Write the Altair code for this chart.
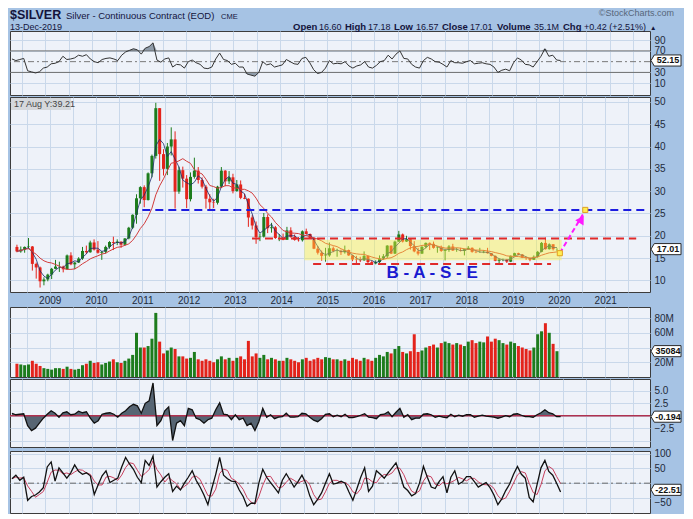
import altair as alt
import pandas as pd

FONT = "Liberation Sans"
BG = "#a6c3e4"
PLOT_BG = "#eef2f9"
GRID = "#c9d8ea"
UP = "#1d7c1d"
DOWN = "#e3231b"

# ---------------- data (monthly, Apr 2008 .. Dec 2019) ----------------
first_open = 17.5
close = [
    16.5, 16.9, 17.5, 17.6, 13.7, 12.9, 9.8, 10.2, 11.3,
    12.6, 13.1, 13.1, 12.5, 15.6, 13.6, 14.0, 14.9, 16.6, 16.3, 18.5, 16.9,
    16.2, 16.4, 17.5, 18.6, 18.4, 18.7, 18.0, 19.4, 21.8, 24.7, 28.4, 30.9,
    28.0, 34.0, 37.9, 48.6, 38.3, 35.0, 40.0, 41.6, 29.9, 34.7, 32.8, 28.2,
    33.2, 34.6, 32.5, 31.0, 28.3, 27.5, 27.4, 31.0, 34.6, 32.2, 33.1, 30.0,
    31.5, 28.5, 28.3, 24.1, 22.3, 19.7, 19.8, 24.2, 21.7, 21.9, 19.5, 19.5,
    19.1, 21.2, 19.7, 19.1, 19.0, 21.0, 20.4, 19.5, 17.1, 16.2, 15.5, 15.6,
    17.2, 16.6, 16.6, 16.3, 16.8, 15.6, 14.7, 14.6, 14.5, 15.5, 14.1, 13.8,
    14.1, 14.9, 15.4, 17.8, 16.0, 18.7, 20.3, 18.7, 19.2, 17.7, 16.5, 16.0,
    17.5, 18.4, 18.2, 17.3, 17.4, 16.6, 16.8, 17.6, 16.7, 16.7, 16.6, 17.0,
    17.3, 16.4, 16.3, 16.3, 16.4, 16.1, 15.5, 14.4, 14.7, 14.7, 14.2, 15.5,
    16.1, 15.8, 15.1, 15.0, 14.6, 15.3, 16.4, 18.4, 17.0, 18.1, 17.0, 17.01,
]
high = [
    18.0, 17.6, 17.6, 19.5, 17.7, 14.0, 13.1, 10.7, 11.5,
    12.8, 14.6, 14.2, 13.3, 15.8, 16.3, 14.2, 15.2, 17.5, 17.8, 18.9, 19.2,
    18.8, 16.6, 17.8, 18.8, 19.8, 19.2, 18.7, 19.5, 22.0, 24.8, 29.3, 31.1,
    31.3, 34.2, 38.2, 49.8, 48.6, 39.4, 40.8, 44.3, 43.4, 35.5, 35.5, 33.6,
    34.2, 37.5, 35.4, 33.1, 31.4, 29.3, 28.3, 31.2, 35.4, 34.7, 34.5, 33.9,
    32.5, 32.4, 29.4, 28.4, 24.6, 23.2, 20.5, 25.1, 24.8, 22.9, 22.2, 20.4,
    20.5, 22.0, 21.9, 20.3, 19.7, 21.2, 21.6, 20.5, 19.6, 17.7, 16.7, 17.3,
    18.5, 17.6, 17.1, 16.9, 17.8, 16.9, 15.7, 15.5, 15.3, 16.5, 15.5, 14.5,
    14.5, 15.6, 15.9, 17.9, 17.8, 18.9, 21.1, 20.5, 20.0, 19.2, 18.8, 17.3,
    17.8, 18.5, 18.5, 18.7, 17.6, 17.8, 16.9, 17.9, 18.2, 17.3, 17.3, 17.1,
    17.7, 17.4, 16.8, 17.3, 16.8, 17.3, 16.1, 15.6, 14.9, 14.9, 14.8, 15.6,
    16.2, 16.2, 15.9, 15.3, 15.1, 15.6, 16.6, 18.6, 19.6, 18.3, 18.1, 17.2,
]
low = [
    16.3, 16.2, 16.2, 17.0, 12.2, 10.4, 8.4, 8.9, 9.8,
    10.3, 12.5, 11.9, 11.8, 12.4, 13.4, 12.5, 13.9, 14.6, 15.9, 16.2, 16.7,
    16.0, 14.6, 16.0, 17.1, 16.8, 17.9, 17.3, 17.8, 19.2, 21.5, 22.7, 27.2,
    26.4, 27.9, 33.1, 37.3, 32.3, 33.5, 33.6, 38.0, 26.1, 29.4, 30.8, 26.2,
    27.7, 32.8, 31.7, 30.6, 26.1, 26.0, 26.2, 27.0, 30.7, 31.1, 31.6, 29.5,
    29.9, 28.2, 28.2, 22.0, 21.4, 18.2, 18.8, 19.6, 20.6, 20.7, 19.3, 18.8,
    19.0, 19.1, 19.6, 18.9, 18.7, 18.7, 20.3, 19.4, 17.0, 15.8, 14.4, 14.2,
    15.3, 16.3, 15.3, 15.7, 16.0, 15.5, 14.3, 13.9, 14.1, 14.4, 13.9, 13.6,
    13.6, 13.9, 14.6, 15.0, 15.9, 15.9, 18.6, 18.5, 18.6, 16.9, 16.3, 15.6,
    15.9, 17.2, 16.8, 17.1, 16.2, 16.4, 14.5, 16.4, 16.6, 16.4, 16.5, 15.6,
    16.9, 16.2, 16.1, 16.2, 16.1, 16.0, 15.4, 14.3, 13.9, 14.3, 13.9, 14.1,
    15.4, 15.6, 15.0, 14.6, 14.3, 14.6, 15.1, 16.3, 16.9, 16.9, 16.7, 16.6,
]
rsi = [
    55, 52, 54, 56, 33, 31, 29, 31, 38,
    40, 46, 47, 50, 60, 54, 55, 57, 62, 60, 63, 55,
    50, 48, 54, 56, 57, 55, 52, 62, 68, 71, 74, 72,
    64, 75, 78, 85, 53, 49, 55, 57, 40, 45, 44, 38,
    50, 53, 48, 45, 38, 37, 40, 55, 66, 54, 52, 45,
    47, 40, 40, 27, 25, 23, 30, 50, 44, 46, 40, 42,
    44, 54, 50, 46, 45, 56, 58, 48, 35, 28, 30, 38,
    52, 46, 47, 46, 50, 42, 38, 42, 44, 50, 40, 38,
    43, 50, 52, 62, 55, 64, 70, 56, 55, 45, 40, 38,
    52, 58, 55, 50, 49, 45, 40, 52, 48, 48, 47, 50,
    52, 46, 47, 48, 46, 45, 40, 30, 34, 36, 33, 48,
    57, 53, 45, 44, 40, 50, 60, 74, 60, 62, 53, 52.15,
]
volume_m = [
    18, 17, 16, 17, 22, 18, 15, 12, 11,
    10, 12, 12, 11, 14, 11, 10, 11, 16, 18, 22, 19,
    20, 17, 19, 21, 24, 20, 19, 22, 25, 30, 60, 40,
    40, 42, 52, 87, 48, 32, 36, 40, 38, 28, 28, 25,
    26, 34, 24, 22, 24, 22, 20, 24, 28, 24, 26, 22,
    26, 28, 24, 49, 28, 32, 26, 30, 24, 26, 24, 22,
    22, 26, 24, 22, 20, 24, 26, 22, 24, 26, 24, 27,
    26, 24, 24, 22, 24, 22, 26, 24, 22, 26, 24, 22,
    26, 30, 28, 34, 32, 38, 42, 34, 32, 35, 58, 34,
    36, 40, 42, 44, 40, 46, 48, 46, 44, 46, 44, 42,
    48, 50, 46, 48, 47, 55, 48, 52, 50, 46, 44, 48,
    46, 42, 40, 38, 36, 40, 58, 62, 73, 60, 45, 35,
]
momentum = [
    0.5, 0.2, 0.3, 0.4, -2.0, -3.0, -2.5, -1.5, -0.5,
    0.3, 1.0, 0.5, -0.3, 0.6, 0.8, 0.2, 0.3, 0.9, 0.6, 0.8, -0.5,
    -1.5, -1.0, 0.3, 0.5, 0.6, 0.3, -0.3, 0.5, 1.0, 1.8, 2.3, 2.0,
    0.5, 2.5, 3.0, 6.6, -2.0, -1.0, 1.0, 1.8, -5.0, -1.5, -1.0, -2.0,
    1.5, 1.2, -0.5, -0.8, -1.5, -0.8, -0.5, 1.2, 2.6, 0.3, 0.2, -0.8,
    0.2, -0.8, -0.5, -2.0, -1.5, -3.0, -1.2, 1.5, -0.3, 0.2, -0.6, -0.3,
    -0.2, 0.5, -0.3, -0.3, -0.2, 0.5, 0.4, -0.3, -0.9, -1.2, -0.6, 0.3,
    0.4, -0.2, 0.1, -0.2, 0.3, -0.4, -0.4, -0.2, 0.1, 0.4, -0.3, -0.4,
    -0.6, 0.2, 0.3, 0.8, -0.2, 0.7, 1.5, -0.3, 0.2, -0.8, -0.5, -0.5,
    0.3, 0.4, 0.2, -0.3, -0.1, -0.3, -0.4, 0.3, -0.2, 0.1, -0.1, 0.2,
    0.2, -0.3, -0.1, 0.1, -0.1, -0.2, -0.3, -0.5, -0.3, 0.0, -0.2, 0.3,
    0.4, 0.1, -0.2, -0.2, -0.3, 0.2, 0.6, 1.2, 0.6, 0.4, -0.2, -0.194,
]
oscillator = [
    15, 27, 10, 20, -58, -45, -40, -30, -15,
    55, 72, 7, 52, 35, 17, 35, 62, 40, 30, 35, 25,
    -38, -5, 25, 42, 2, 10, 17, 55, 87, 65, 47, 20,
    2, 77, 60, 92, -13, 5, 20, 32, -28, -10, -23, 0,
    20, 42, 10, -13, -40, -73, -18, 30, 87, 27, 15, 7,
    5, -23, -45, -78, -68, -68, 0, 47, 20, 2, -15, -33,
    10, 32, 10, -13, 5, 27, 0, -43, -73, -55, -33, 0,
    32, -3, 0, 7, 0, -30, -58, -20, 20, 52, -28, -10,
    42, 30, 17, 35, 52, 69, 30, -13, -25, -43, -35, 0,
    57, 20, -13, -18, 5, 22, -33, 20, 42, -3, 5, 22,
    22, 5, -13, -5, 2, -15, -40, -73, -53, -25, -3, 30,
    57, 30, 17, -48, -63, -5, 52, 77, 40, 27, 0, -30,
]

# last-value tags
tag_rsi, tag_price, tag_vol, tag_mom, tag_osc = 52.15, 17.01, 35.084, -0.194, -22.51
tag_labels = ["52.15", "17.01", "35084", "-0.194", "-22.51"]

# annotations (date in years, price)
blue_level = {"t1": [2011.0], "t2": [2021.86], "lvl": [25.8]}
red_upper = {"t1": [2013.37], "t2": [2021.67], "lvl": [19.4]}
red_lower = {"t1": [2014.69], "t2": [2019.83], "lvl": [13.7]}
base_box = {"x1": [2014.50], "x2": [2020.06], "y1": [14.5], "y2": [19.1]}
arrow_line = {"t": [2020.02, 2020.53], "p": [16.1, 25.0]}
arrow_head = {"t": [2020.49], "p": [23.7]}
arrow_ends = {"t": [2020.02, 2020.57], "p": [16.1, 25.8]}
base_text = {"t": [2017.26], "p": [11.6], "label": ["B - A - S - E"]}

# ---------------- frame ----------------
n = len(close)
t = [2008 + 3 / 12 + (i + 0.5) / 12 for i in range(n)]
opens = [first_open] + close[:-1]
direction = ["up" if c >= o else "down" for o, c in zip(opens, close)]
df = pd.DataFrame({
    "t": t, "open": opens, "high": high, "low": low, "close": close,
    "rsi": rsi, "vol": volume_m, "mom": momentum, "osc": oscillator, "dir": direction,
})

W = 640
H_RSI, H_PRICE, H_VOL, H_MOM, H_OSC = 64, 195, 70, 68, 62
XDOM = [2008.25, 2021.86]
half_years = [2008.5 + 0.5 * k for k in range(27)]
dir_scale = alt.Scale(domain=["up", "down"], range=[UP, DOWN])


def xenc(field, show_labels=False):
    return alt.X(field, type="quantitative",
                 scale=alt.Scale(domain=XDOM, nice=False, zero=False),
                 axis=alt.Axis(values=half_years, labels=show_labels,
                               labelExpr="datum.value % 1 == 0 ? format(datum.value, 'd') : ''",
                               labelOverlap=False, grid=True, gridColor=GRID, gridWidth=1,
                               ticks=False, domain=False, title=None, labelFont=FONT,
                               labelFontSize=10, labelColor="#1e2a3a", labelPadding=3))


def make_y(dom, values, expr, **extra):
    def yenc(field):
        return alt.Y(field, type="quantitative",
                     scale=alt.Scale(domain=dom, nice=False, zero=False),
                     axis=alt.Axis(orient="right", values=values, labelExpr=expr, grid=True,
                                   gridColor=GRID, ticks=False, domain=False, title=None,
                                   labelFont=FONT, labelFontSize=10, labelColor="#1e2a3a",
                                   labelPadding=4, labelOverlap=False, **extra))
    return yenc


TAG_PATH = "M-1,0L-0.78,-0.37L1,-0.37L1,0.37L-0.78,0.37Z"


def tag(value, label, yenc):
    d = pd.DataFrame({"v": [value], "label": [label]})
    box = alt.Chart(d).mark_point(shape=TAG_PATH, size=900, filled=True, fill="white",
                                  stroke="#2a2a2a", strokeWidth=1, opacity=1).encode(
        x=alt.value(W + 16), y=yenc("v"))
    txt = alt.Chart(d).mark_text(font=FONT, fontSize=9, fontWeight="bold", color="#111").encode(
        x=alt.value(W + 18), y=yenc("v"), text="label:N")
    return [box, txt]


one = pd.DataFrame({"k": [0]})
base = alt.Chart(df)

# ---------------- RSI panel ----------------
y_rsi = make_y([-12, 107], [10, 30, 70, 90], "format(datum.value, 'd')")
rsi_hi = base.transform_calculate(hi="max(datum.rsi, 70)").mark_area(
    color="#6f7f8f", opacity=0.75).encode(x=xenc("t"), y=y_rsi("hi"), y2=alt.datum(70))
rsi_lo = base.transform_calculate(lo="min(datum.rsi, 30)").mark_area(
    color="#6f7f8f", opacity=0.75).encode(x=xenc("t"), y=y_rsi("lo"), y2=alt.datum(30))
rsi_bands = alt.Chart(pd.DataFrame({"lvl": [30, 70]})).mark_rule(
    color="#707070", strokeWidth=1).encode(y=y_rsi("lvl"))
rsi_mid = alt.Chart(pd.DataFrame({"lvl": [50]})).mark_rule(
    color="#7a7a7a", strokeWidth=1, strokeDash=[6, 3, 2, 3]).encode(y=y_rsi("lvl"))
rsi_line = base.mark_line(color="#333333", strokeWidth=1).encode(x=xenc("t"), y=y_rsi("rsi"))

header_items = [
    ("$SILVER", 0, -12, 12.5, True, "#14143c", "left"),
    ("Silver - Continuous Contract (EOD)", 56, -12, 9.5, False, "#14143c", "left"),
    ("CME", 211, -12, 7.5, False, "#14143c", "left"),
    ("13-Dec-2019", 0, -1, 9, False, "#14143c", "left"),
    ("\u00a9StockCharts.com", W + 24, -15, 9, False, "#56667a", "right"),
    ("Open", 283, -1, 9.5, True, "#14143c", "left"),
    ("16.60", 309, -1, 9, False, "#14143c", "left"),
    ("High", 335, -1, 9.5, True, "#14143c", "left"),
    ("17.18", 358, -1, 9, False, "#14143c", "left"),
    ("Low", 384, -1, 9.5, True, "#14143c", "left"),
    ("16.57", 406, -1, 9, False, "#14143c", "left"),
    ("Close", 432, -1, 9.5, True, "#14143c", "left"),
    ("17.01", 460, -1, 9, False, "#14143c", "left"),
    ("Volume", 487, -1, 9.5, True, "#14143c", "left"),
    ("35.1M", 524, -1, 9, False, "#14143c", "left"),
    ("Chg", 553, -1, 9.5, True, "#14143c", "left"),
    ("+0.42 (+2.51%)", 574, -1, 9, False, "#14143c", "left"),
    ("\u25b2", 640, -1, 6.5, False, "#14143c", "left"),
]
header_layers = [
    alt.Chart(one).mark_text(text=txt, font=FONT, fontSize=fs,
                             fontWeight="bold" if bold else "normal", color=col,
                             align=al, baseline="alphabetic").encode(x=alt.value(x), y=alt.value(y))
    for (txt, x, y, fs, bold, col, al) in header_items
]

rsi_panel = alt.layer(
    rsi_hi, rsi_lo, rsi_bands, rsi_mid, rsi_line,
    *tag(tag_rsi, tag_labels[0], y_rsi), *header_layers
).properties(width=W, height=H_RSI)

# ---------------- price panel ----------------
y_p = make_y([7.4, 51.1], [10, 15, 20, 25, 30, 35, 40, 45, 50], "format(datum.value, 'd')")
color_dir = alt.Color("dir:N", scale=dir_scale, legend=None)
wick = base.mark_rule(strokeWidth=1).encode(x=xenc("t", True), y=y_p("low"), y2="high:Q", color=color_dir)
body = base.mark_bar(size=3).encode(x=xenc("t", True), y=y_p("open"), y2="close:Q", color=color_dir)
ma_long = base.transform_window(ma="mean(close)", frame=[-9, 0], sort=[alt.SortField("t")]).mark_line(
    color="#d23c3c", strokeWidth=1).encode(x=xenc("t", True), y=y_p("ma:Q"))
ma_short = base.transform_window(ms="mean(close)", frame=[-2, 0], sort=[alt.SortField("t")]).mark_line(
    color="#1c2a6c", strokeWidth=1, opacity=0.8).encode(x=xenc("t", True), y=y_p("ms:Q"))
yellow = alt.Chart(pd.DataFrame(base_box)).mark_rect(color="#fff23c", opacity=0.42).encode(
    x=xenc("x1", True), x2="x2:Q", y=y_p("y1"), y2="y2:Q")


def level(d, color):
    return alt.Chart(pd.DataFrame(d)).mark_rule(color=color, strokeWidth=2, strokeDash=[8, 5]).encode(
        x=xenc("t1", True), x2="t2:Q", y=y_p("lvl"))


lv_blue = level(blue_level, "#1c1ce0")
lv_up = level(red_upper, "#e02a2a")
lv_lo = level(red_lower, "#e02a2a")
arrow = alt.Chart(pd.DataFrame(arrow_line)).mark_line(
    color="#ff1aff", strokeWidth=2, strokeDash=[5, 3]).encode(x=xenc("t", True), y=y_p("p"))
head = alt.Chart(pd.DataFrame(arrow_head)).mark_point(
    shape="triangle-up", filled=True, size=95, angle=31, color="#ff1aff", opacity=1).encode(
    x=xenc("t", True), y=y_p("p"))
ends = alt.Chart(pd.DataFrame(arrow_ends)).mark_point(
    shape="square", filled=True, size=26, fill="#ffee55", stroke="#e0a020", strokeWidth=1, opacity=1).encode(
    x=xenc("t", True), y=y_p("p"))
base_lbl = alt.Chart(pd.DataFrame(base_text)).mark_text(
    font=FONT, fontSize=17, fontWeight="bold", color="#1a1ad0").encode(
    x=xenc("t", True), y=y_p("p"), text="label:N")
date_box = alt.Chart(one).mark_rect(color="#d3d6da", opacity=0.95).encode(
    x=alt.value(1), x2=alt.value(61), y=alt.value(1), y2=alt.value(13))
date_txt = alt.Chart(one).mark_text(text="17 Aug Y:39.21", font=FONT, fontSize=9, color="#444",
                                    align="left", baseline="middle").encode(x=alt.value(4), y=alt.value(7))

price_panel = alt.layer(
    wick, body, ma_short, ma_long, yellow, lv_blue, lv_up, lv_lo, arrow, head, ends, base_lbl,
    date_box, date_txt, *tag(tag_price, tag_labels[1], y_p)
).properties(width=W, height=H_PRICE)

# ---------------- volume panel ----------------
y_v = make_y([0, 95], [20, 40, 60, 80], "datum.value == 40 ? '' : datum.value + 'M'")
vol_bars = base.mark_bar(size=3).encode(x=xenc("t"), y=y_v("vol"), y2=alt.datum(0), color=color_dir)
vol_panel = alt.layer(vol_bars, *tag(tag_vol, tag_labels[2], y_v)).properties(width=W, height=H_VOL)

# ---------------- momentum panel ----------------
y_m = make_y([-6.3, 7.4], [-5, -2.5, 0, 2.5, 5],
             "datum.value == 0 || datum.value == -5 ? '' : format(datum.value, '.1f')")
mom_area = base.mark_area(color="#4e5d6c", opacity=0.95).encode(x=xenc("t"), y=y_m("mom"), y2=alt.datum(0))
mom_line = base.mark_line(color="#111111", strokeWidth=1.3).encode(x=xenc("t"), y=y_m("mom"))
mom_zero = alt.Chart(pd.DataFrame({"lvl": [0]})).mark_rule(color="#b0304e", strokeWidth=1.5).encode(y=y_m("lvl"))
mom_panel = alt.layer(mom_area, mom_zero, mom_line, *tag(tag_mom, tag_labels[3], y_m)).properties(
    width=W, height=H_MOM)

# ---------------- oscillator panel ----------------
y_o = make_y([-101, 109], [-50, 0, 50, 100], "datum.value == 0 ? '' : format(datum.value, 'd')",
             labelBaseline={"condition": {"test": "datum.value == -50", "value": "top"},
                            "value": "middle"})
osc_zero = alt.Chart(pd.DataFrame({"lvl": [0]})).mark_rule(
    color="#6a6a6a", strokeWidth=1, strokeDash=[6, 3, 2, 3]).encode(y=y_o("lvl"))
osc_sig = base.transform_window(sig="mean(osc)", frame=[-2, 0], sort=[alt.SortField("t")]).mark_line(
    color="#c8405e", strokeWidth=1).encode(x=xenc("t"), y=y_o("sig:Q"))
osc_line = base.mark_line(color="#111111", strokeWidth=1.3).encode(x=xenc("t"), y=y_o("osc"))
osc_panel = alt.layer(osc_zero, osc_sig, osc_line, *tag(tag_osc, tag_labels[4], y_o)).properties(
    width=W, height=H_OSC)

chart = alt.vconcat(
    rsi_panel, price_panel, vol_panel, mom_panel, osc_panel, spacing=0
).properties(
    padding={"left": 0, "top": 0, "right": 0, "bottom": 0}
).configure(
    background=BG
).configure_view(
    fill=PLOT_BG, stroke="#3c3c3c", strokeWidth=1
)

chart.save("out.html", embed_options={"renderer": "svg", "actions": False})
